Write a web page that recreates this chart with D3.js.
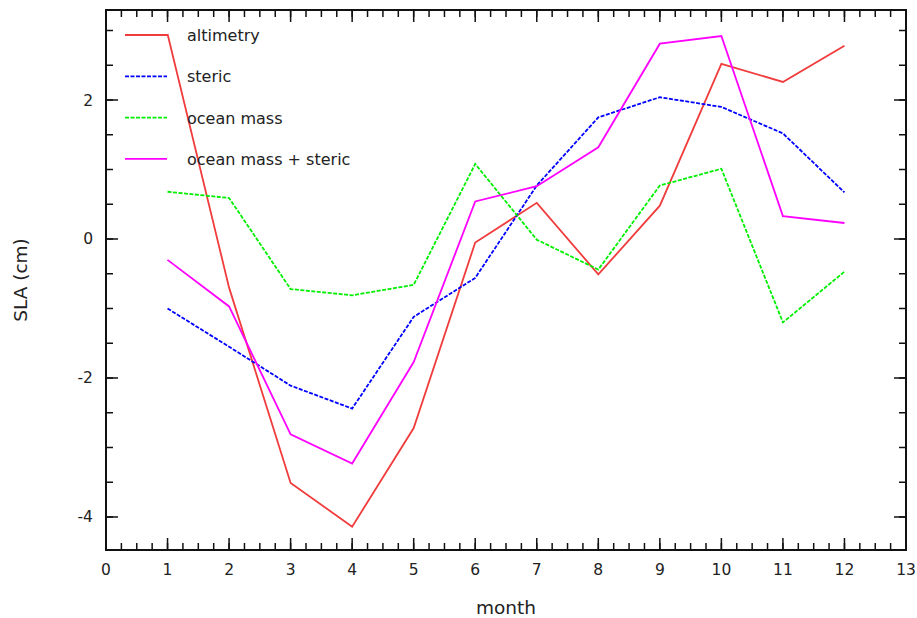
<!DOCTYPE html>
<html>
<head>
<meta charset="utf-8">
<script src="https://cdn.jsdelivr.net/npm/d3@7"></script>
<style>
body { margin: 0; background: #fff; }
text { font-family: "DejaVu Sans", sans-serif; fill: #222; }
</style>
</head>
<body>
<script>
// data
var months = [1,2,3,4,5,6,7,8,9,10,11,12];
var altimetry = [2.95,-0.70,-3.51,-4.14,-2.72,-0.05,0.52,-0.51,0.48,2.52,2.26,2.78];
var steric = [-1.00,-1.55,-2.11,-2.44,-1.12,-0.56,0.77,1.75,2.04,1.90,1.52,0.67];
var oceanMass = [0.68,0.59,-0.72,-0.81,-0.66,1.08,-0.01,-0.44,0.77,1.01,-1.20,-0.47];
var massSteric = [-0.30,-0.97,-2.81,-3.23,-1.77,0.54,0.76,1.32,2.81,2.92,0.33,0.23];
var seriesNames = ["altimetry","steric","ocean mass","ocean mass + steric"];
var seriesColors = ["#f03c3c","#0000ff","#00ee00","#ff00ff"];
var seriesDash = [null,"4,1.5","4,1.5",null];
var xTicks = [0,1,2,3,4,5,6,7,8,9,10,11,12,13];
var yTicks = [-4,-2,0,2];

var W = 917, H = 618;
var mLeft = 106, mRight = 906, mTop = 10, mBottom = 550;

var svg = d3.select("body").append("svg")
	.attr("width", W)
	.attr("height", H);

var x = d3.scaleLinear().domain([0,13]).range([mLeft,mRight]);
var y = d3.scaleLinear().domain([-4.475,3.295]).range([mBottom,mTop]);

var xMinor = d3.range(0,13.01,0.25);
var yMinor = d3.range(-4,3.3,0.5);

// ticks on all four sides, pointing inward
function drawTicks(scale, minor, major, orient, pos, sign){
	var g = svg.append("g");
	[[minor,7],[major,12]].forEach(function(set){
		g.selectAll(null).data(set[0]).enter().append("line")
			.attr("stroke","#111").attr("stroke-width",1.5)
			.attr("x1", function(d){ return orient === "h" ? scale(d) : pos; })
			.attr("x2", function(d){ return orient === "h" ? scale(d) : pos + sign*set[1]; })
			.attr("y1", function(d){ return orient === "h" ? pos : scale(d); })
			.attr("y2", function(d){ return orient === "h" ? pos + sign*set[1] : scale(d); });
	});
}
drawTicks(x, xMinor, xTicks, "h", mBottom, -1);
drawTicks(x, xMinor, xTicks, "h", mTop, 1);
drawTicks(y, yMinor, yTicks, "v", mLeft, 1);
drawTicks(y, yMinor, yTicks, "v", mRight, -1);

// tick labels
svg.selectAll("text.xt").data(xTicks).enter().append("text")
	.attr("x", function(d){ return x(d); })
	.attr("y", 575)
	.attr("text-anchor","middle")
	.attr("font-size",15.5)
	.text(function(d){ return d; });
svg.selectAll("text.yt").data(yTicks).enter().append("text")
	.attr("x", 93)
	.attr("y", function(d){ return y(d) + 5.5; })
	.attr("text-anchor","end")
	.attr("font-size",15.5)
	.text(function(d){ return d; });

// lines
var series = [altimetry, steric, oceanMass, massSteric];
var line = d3.line()
	.x(function(d,i){ return x(months[i]); })
	.y(function(d){ return y(d); });

series.forEach(function(s, k){
	svg.append("path")
		.datum(s)
		.attr("d", line)
		.attr("fill","none")
		.attr("stroke", seriesColors[k])
		.attr("stroke-width",1.8)
		.attr("stroke-dasharray", seriesDash[k]);
});

// frame
svg.append("rect")
	.attr("x", mLeft).attr("y", mTop)
	.attr("width", mRight-mLeft).attr("height", mBottom-mTop)
	.attr("fill","none").attr("stroke","#111").attr("stroke-width",2);

// legend
var leg = svg.selectAll("g.leg").data(seriesNames).enter().append("g")
	.attr("transform", function(d,i){ return "translate(0," + (35 + i*41.3) + ")"; });
leg.append("line")
	.attr("x1",125).attr("x2",167).attr("y1",0).attr("y2",0)
	.attr("stroke", function(d,i){ return seriesColors[i]; })
	.attr("stroke-width",1.8)
	.attr("stroke-dasharray", function(d,i){ return seriesDash[i]; });
leg.append("text")
	.attr("x",187).attr("y",6)
	.attr("font-size",16)
	.text(function(d){ return d; });

// axis titles
svg.append("text")
	.attr("x", (mLeft+mRight)/2).attr("y", 614)
	.attr("text-anchor","middle")
	.attr("font-size",18.5)
	.text("month");
svg.append("text")
	.attr("transform","translate(27," + ((mTop+mBottom)/2) + ") rotate(-90)")
	.attr("text-anchor","middle")
	.attr("font-size",18.5)
	.text("SLA (cm)");
</script>
</body>
</html>
